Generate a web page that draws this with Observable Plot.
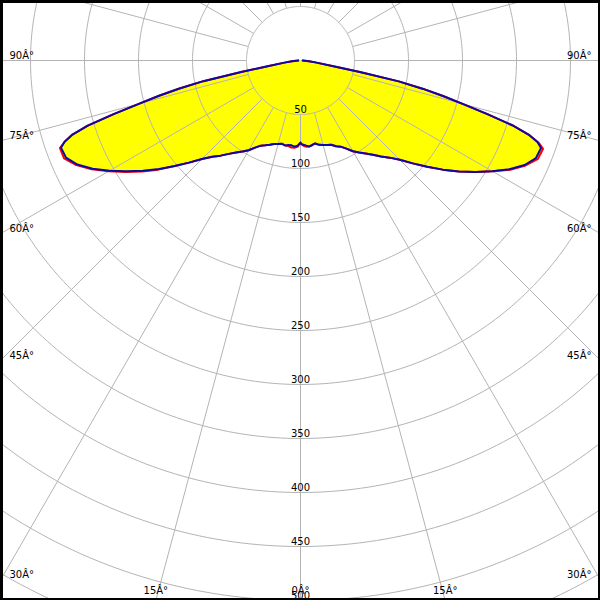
<!DOCTYPE html>
<html><head><meta charset="utf-8">
<script src="https://cdn.jsdelivr.net/npm/d3@7"></script>
<script src="https://cdn.jsdelivr.net/npm/@observablehq/plot@0.6"></script>
<style>html,body{margin:0;padding:0;background:#fff}#chart{width:600px;height:600px;overflow:hidden}</style>
</head><body><div id="chart"></div>
<script>
// gamma angles (degrees from nadir), same for both half-planes
const gammaAngles = [0,2,4,6,8,10,12.5,15,17.5,20,22.5,25,27.5,30,32.5,35,37.5,40,42.5,45,47.5,50,52.5,55,57.5,60,62.5,65,67.5,70,71,72,73,74,75,76,77,78,79,80,82.5,85,87.5,90];
// intensity — blue curve
const blueLeft  = [76,79,80,79,79,80,79,80,81,83,85,87,91,96,100,104,109,115,121,129,140,152,165,178,191,204,217,228,235,236,231,222,206,180,155,135,115,92,55,32,15,8,4,2];
const blueRight = [77,78,79,80,79,78,80,81,82,83,86,88,92,97,101,105,110,116,122,130,141,153,166,179,192,205,218,229,236,237,232,222,205,180,156,136,116,93,56,32,15,8,4,2];
// red curve
const redLeft   = [76,80,81,81,80,80,79,80,81,83,85,87,91,96,100,104,109,115,121,129,140,152,166,179,192,205,218,229,237,237,231,222,206,180,155,135,115,92,55,32,15,8,4,2];
const redRight  = [77,79,80,80,79,78,80,81,82,83,86,88,92,97,101,105,110,116,122,130,141,153,166,179,192,205,219,230,238,239,233,222,205,180,156,136,116,93,56,32,15,8,4,2];

const ringValues = [50,100,150,200,250,300,350,400,450,500,550];
const ringLabels = ["50","100","150","200","250","300","350","400","450","500"];
const angleTickValues = [0,15,30,45,60,75,90];
const angleTickLabels = ["0Â°","15Â°","30Â°","45Â°","60Â°","75Â°","90Â°"];
const spokeStep = 15;

const xLimit = 300/1.08, yTop = -60/1.08, yBottom = 540/1.08;

function polar(theta, I) {
  const t = theta * Math.PI / 180;
  return {x: I * Math.sin(t), y: I * Math.cos(t)};
}
function curvePoints(left, right) {
  const pts = [];
  for (let i = gammaAngles.length - 1; i >= 0; i--) pts.push(polar(-gammaAngles[i], left[i]));
  for (let i = 0; i < gammaAngles.length; i++) pts.push(polar(gammaAngles[i], right[i]));
  return pts;
}
const bluePts = curvePoints(blueLeft, blueRight);
const redPts = curvePoints(redLeft, redRight);

const ringPts = [];
for (const r of ringValues) for (let a = 0; a <= 360; a += 1) ringPts.push({r, ...polar(a, r)});

const spokes = d3.range(0, 360, spokeStep).map(a => {
  const p1 = polar(a, 50), p2 = polar(a, 800);
  return {x1: p1.x, y1: p1.y, x2: p2.x, y2: p2.y};
});

// angle labels placed where each spoke leaves the frame
const leftLabels = [], rightLabels = [], bottomLabels = [];
angleTickValues.forEach((a, i) => {
  const sides = a === 0 ? [1] : [-1, 1];
  for (const s of sides) {
    const t = a * Math.PI / 180;
    const label = angleTickLabels[i];
    if (a === 0) { bottomLabels.push({x: 0, y: yBottom, label}); continue; }
    const yEdge = xLimit / Math.tan(t);
    if (yEdge <= yBottom) (s < 0 ? leftLabels : rightLabels).push({x: s * xLimit, y: yEdge, label});
    else bottomLabels.push({x: s * yBottom * Math.tan(t), y: yBottom, label});
  }
});

const ringLabelData = ringLabels.map((t, i) => ({y: ringValues[i], label: t}));

const grid = "#b4b4b4";
const textStyle = {fontSize: 10, fill: "black", lineAnchor: "bottom"};

const chart = Plot.plot({
  width: 600, height: 600, margin: 0,
  x: {domain: [-xLimit, xLimit], range: [0, 600], axis: null},
  y: {domain: [yTop, yBottom], range: [0, 600], axis: null},
  style: {fontFamily: "DejaVu Sans", background: "white"},
  marks: [
    Plot.line(redPts, {x: "x", y: "y", fill: "#ffff00", stroke: "none"}),
    Plot.line(ringPts, {x: "x", y: "y", z: "r", stroke: grid, strokeWidth: 1, clip: true}),
    Plot.link(spokes, {x1: "x1", y1: "y1", x2: "x2", y2: "y2", stroke: grid, strokeWidth: 1, clip: true}),
    Plot.line(redPts, {x: "x", y: "y", stroke: "#ff0000", strokeWidth: 2}),
    Plot.line(bluePts, {x: "x", y: "y", stroke: "#0a0aa8", strokeWidth: 2}),
    Plot.text(ringLabelData, {x: () => 0, y: "y", text: "label", dy: -2, ...textStyle}),
    Plot.text(leftLabels, {x: "x", y: "y", text: "label", textAnchor: "start", dx: 9, dy: -2, ...textStyle}),
    Plot.text(rightLabels, {x: "x", y: "y", text: "label", textAnchor: "end", dx: -9, dy: -2, ...textStyle}),
    Plot.text(bottomLabels, {x: "x", y: "y", text: "label", textAnchor: "middle", dy: -7, ...textStyle}),
    Plot.frame({stroke: "black", strokeWidth: 5})
  ]
});
document.getElementById("chart").appendChild(chart);
</script></body></html>
